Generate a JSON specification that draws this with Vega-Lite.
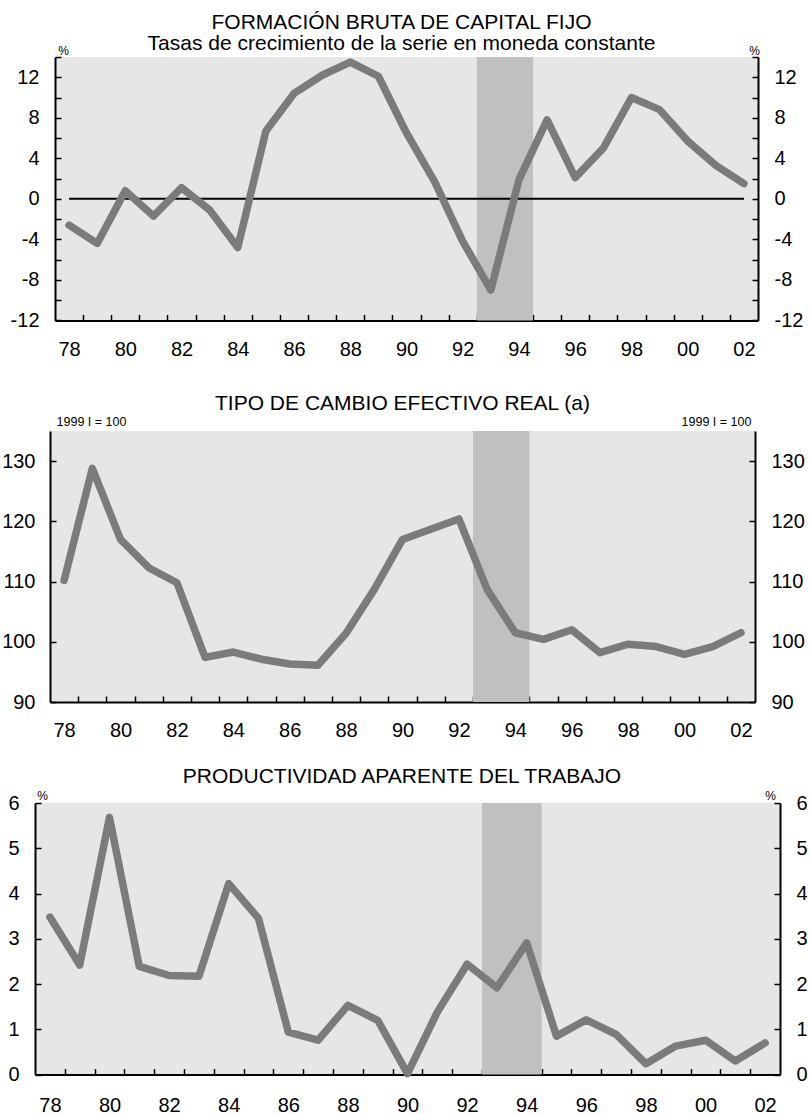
{
  "$schema": "https://vega.github.io/schema/vega-lite/v6.json",
  "padding": {"top": 12, "left": 0, "right": 0, "bottom": 0},
  "background": "white",
  "spacing": 0,
  "config": {
    "font": "Liberation Sans",
    "view": {"stroke": null},
    "axis": {"domainColor": "black", "domainWidth": 2, "tickColor": "black", "tickWidth": 1.5, "tickSize": -6, "labelFont": "Liberation Sans", "labelFontSize": 20, "labelColor": "black", "grid": false, "titleFont": "Liberation Sans", "titleFontWeight": "normal", "titleColor": "black", "labelOverlap": false, "labelBound": false, "labelFlush": false},
    "title": {"font": "Liberation Sans", "fontSize": 21, "fontWeight": "normal", "color": "black", "anchor": "middle", "frame": "group", "lineHeight": 21}
  },
  "datasets": {
    "fbcf": [
      {"year": 1978, "v": -2.6}, {"year": 1979, "v": -4.4}, {"year": 1980, "v": 0.8}, {"year": 1981, "v": -1.7}, {"year": 1982, "v": 1.1},
      {"year": 1983, "v": -1.1}, {"year": 1984, "v": -4.8}, {"year": 1985, "v": 6.7}, {"year": 1986, "v": 10.4}, {"year": 1987, "v": 12.2},
      {"year": 1988, "v": 13.5}, {"year": 1989, "v": 12.1}, {"year": 1990, "v": 6.5}, {"year": 1991, "v": 1.7}, {"year": 1992, "v": -4.2},
      {"year": 1993, "v": -9.0}, {"year": 1994, "v": 1.9}, {"year": 1995, "v": 7.8}, {"year": 1996, "v": 2.1}, {"year": 1997, "v": 5.0},
      {"year": 1998, "v": 10.0}, {"year": 1999, "v": 8.8}, {"year": 2000, "v": 5.7}, {"year": 2001, "v": 3.3}, {"year": 2002, "v": 1.5}
    ],
    "tcer": [
      {"year": 1978, "v": 110.2}, {"year": 1979, "v": 128.8}, {"year": 1980, "v": 117.0}, {"year": 1981, "v": 112.3}, {"year": 1982, "v": 109.8},
      {"year": 1983, "v": 97.4}, {"year": 1984, "v": 98.3}, {"year": 1985, "v": 97.1}, {"year": 1986, "v": 96.3}, {"year": 1987, "v": 96.1},
      {"year": 1988, "v": 101.4}, {"year": 1989, "v": 108.7}, {"year": 1990, "v": 117.0}, {"year": 1991, "v": 118.7}, {"year": 1992, "v": 120.4},
      {"year": 1993, "v": 108.7}, {"year": 1994, "v": 101.5}, {"year": 1995, "v": 100.4}, {"year": 1996, "v": 102.0}, {"year": 1997, "v": 98.2},
      {"year": 1998, "v": 99.6}, {"year": 1999, "v": 99.2}, {"year": 2000, "v": 97.9}, {"year": 2001, "v": 99.2}, {"year": 2002, "v": 101.5}
    ],
    "prod": [
      {"year": 1978, "v": 3.48}, {"year": 1979, "v": 2.42}, {"year": 1980, "v": 5.68}, {"year": 1981, "v": 2.39}, {"year": 1982, "v": 2.19},
      {"year": 1983, "v": 2.17}, {"year": 1984, "v": 4.22}, {"year": 1985, "v": 3.45}, {"year": 1986, "v": 0.94}, {"year": 1987, "v": 0.76},
      {"year": 1988, "v": 1.53}, {"year": 1989, "v": 1.2}, {"year": 1990, "v": 0.02}, {"year": 1991, "v": 1.38}, {"year": 1992, "v": 2.44},
      {"year": 1993, "v": 1.92}, {"year": 1994, "v": 2.91}, {"year": 1995, "v": 0.85}, {"year": 1996, "v": 1.21}, {"year": 1997, "v": 0.89},
      {"year": 1998, "v": 0.24}, {"year": 1999, "v": 0.63}, {"year": 2000, "v": 0.76}, {"year": 2001, "v": 0.3}, {"year": 2002, "v": 0.7}
    ]
  },
  "vconcat": [
    {
      "spacing": 0,
      "hconcat": [
        {"width": 10, "height": 336, "data": {"values": [{}]}, "mark": {"type": "point", "opacity": 0, "size": 0}, "encoding": {}},
        {
          "width": 703, "height": 263.4,
          "view": {"fill": "#e6e6e6", "stroke": null},
          "title": {"text": ["FORMACIÓN BRUTA DE CAPITAL FIJO", "Tasas de crecimiento de la serie en moneda constante"], "offset": -10, "dx": -5},
          "encoding": {
            "x": {"field": "year", "type": "quantitative", "scale": {"domain": [1977.5, 2002.5], "nice": false, "zero": false},
              "axis": {"title": null, "values": [1978, 1978.5, 1979.5, 1980, 1980.5, 1981.5, 1982, 1982.5, 1983.5, 1984, 1984.5, 1985.5, 1986, 1986.5, 1987.5, 1988, 1988.5, 1989.5, 1990, 1990.5, 1991.5, 1992, 1992.5, 1993.5, 1994, 1994.5, 1995.5, 1996, 1996.5, 1997.5, 1998, 1998.5, 1999.5, 2000, 2000.5, 2001.5, 2002],
                "labelExpr": "datum.value % 2 === 0 ? substring(toString(datum.value), 2, 4) : ''",
                "tickOpacity": {"condition": {"test": "datum.value % 1 === 0", "value": 0}, "value": 1},
                "labelBaseline": "middle", "labelPadding": 35.5}}
          },
          "layer": [
            {"data": {"values": [{"year": 1992.5, "year2": 1994.5}]}, "mark": {"type": "rect", "color": "#c0c0c0"}, "encoding": {"x2": {"field": "year2"}}},
            {"data": {"values": [{"year": 1978, "year2": 2002, "z": 0}]}, "mark": {"type": "rule", "color": "black", "strokeWidth": 2},
              "encoding": {"x2": {"field": "year2"}, "y": {"field": "z", "type": "quantitative", "scale": {"domain": [-12, 14], "nice": false, "zero": false}, "axis": null}}},
            {"data": {"name": "fbcf"}, "mark": {"type": "line", "color": "#7b7b7b", "strokeWidth": 7.5, "strokeJoin": "round", "strokeCap": "round"},
              "encoding": {"y": {"field": "v", "type": "quantitative", "scale": {"domain": [-12, 14], "nice": false, "zero": false},
                "axis": {"orient": "left", "values": [-12, -10, -8, -6, -4, -2, 0, 2, 4, 6, 8, 10, 12, 14], "labelExpr": "datum.value % 4 === 0 ? toString(datum.value) : ''", "labelPadding": 22,
                  "title": "%", "titleAngle": 0, "titleX": 8, "titleY": -7, "titleAlign": "center", "titleBaseline": "middle", "titleFontSize": 12}}}},
            {"data": {"name": "fbcf"}, "mark": {"type": "point", "opacity": 0},
              "encoding": {"y": {"field": "v", "type": "quantitative", "scale": {"domain": [-12, 14], "nice": false, "zero": false},
                "axis": {"orient": "right", "values": [-12, -10, -8, -6, -4, -2, 0, 2, 4, 6, 8, 10, 12, 14], "labelExpr": "datum.value % 4 === 0 ? toString(datum.value) : ''", "labelPadding": 22,
                  "title": "%", "titleAngle": 0, "titleX": -4, "titleY": -7, "titleAlign": "center", "titleBaseline": "middle", "titleFontSize": 12}}}}
          ],
          "resolve": {"scale": {"y": "independent"}}
        }
      ]
    },
    {
      "spacing": 0,
      "hconcat": [
        {"width": 1, "height": 335, "data": {"values": [{}]}, "mark": {"type": "point", "opacity": 0, "size": 0}, "encoding": {}},
        {
          "width": 705, "height": 271,
          "view": {"fill": "#e6e6e6", "stroke": null},
          "title": {"text": "TIPO DE CAMBIO EFECTIVO REAL (a)", "offset": 1},
          "encoding": {
            "x": {"field": "year", "type": "quantitative", "scale": {"domain": [1977.5, 2002.5], "nice": false, "zero": false},
              "axis": {"title": null, "values": [1978, 1978.5, 1979.5, 1980, 1980.5, 1981.5, 1982, 1982.5, 1983.5, 1984, 1984.5, 1985.5, 1986, 1986.5, 1987.5, 1988, 1988.5, 1989.5, 1990, 1990.5, 1991.5, 1992, 1992.5, 1993.5, 1994, 1994.5, 1995.5, 1996, 1996.5, 1997.5, 1998, 1998.5, 1999.5, 2000, 2000.5, 2001.5, 2002],
                "labelExpr": "datum.value % 2 === 0 ? substring(toString(datum.value), 2, 4) : ''",
                "tickOpacity": {"condition": {"test": "datum.value % 1 === 0", "value": 0}, "value": 1},
                "labelBaseline": "middle", "labelPadding": 34.5}}
          },
          "layer": [
            {"data": {"values": [{"year": 1992.5, "year2": 1994.5}]}, "mark": {"type": "rect", "color": "#c0c0c0"}, "encoding": {"x2": {"field": "year2"}}},
            {"data": {"name": "tcer"}, "mark": {"type": "line", "color": "#7b7b7b", "strokeWidth": 7.5, "strokeJoin": "round", "strokeCap": "round"},
              "encoding": {"y": {"field": "v", "type": "quantitative", "scale": {"domain": [90, 135], "nice": false, "zero": false},
                "axis": {"orient": "left", "values": [90, 100, 110, 120, 130], "labelExpr": "toString(datum.value)", "labelPadding": 21,
                  "title": "1999 I = 100", "titleAngle": 0, "titleX": 41, "titleY": -10, "titleAlign": "center", "titleBaseline": "middle", "titleFontSize": 12.5}}}},
            {"data": {"name": "tcer"}, "mark": {"type": "point", "opacity": 0},
              "encoding": {"y": {"field": "v", "type": "quantitative", "scale": {"domain": [90, 135], "nice": false, "zero": false},
                "axis": {"orient": "right", "values": [90, 100, 110, 120, 130], "labelExpr": "toString(datum.value)", "labelPadding": 22,
                  "title": "1999 I = 100", "titleAngle": 0, "titleX": -39, "titleY": -10, "titleAlign": "center", "titleBaseline": "middle", "titleFontSize": 12.5}}}}
          ],
          "resolve": {"scale": {"y": "independent"}}
        }
      ]
    },
    {
      "spacing": 0,
      "hconcat": [
        {"width": 7, "height": 10, "data": {"values": [{}]}, "mark": {"type": "point", "opacity": 0, "size": 0}, "encoding": {}},
        {
          "width": 745, "height": 271.6,
          "view": {"fill": "#e6e6e6", "stroke": null},
          "title": {"text": "PRODUCTIVIDAD APARENTE DEL TRABAJO", "offset": 1.6, "dx": -5.5},
          "encoding": {
            "x": {"field": "year", "type": "quantitative", "scale": {"domain": [1977.5, 2002.5], "nice": false, "zero": false},
              "axis": {"title": null, "values": [1978, 1978.5, 1979.5, 1980, 1980.5, 1981.5, 1982, 1982.5, 1983.5, 1984, 1984.5, 1985.5, 1986, 1986.5, 1987.5, 1988, 1988.5, 1989.5, 1990, 1990.5, 1991.5, 1992, 1992.5, 1993.5, 1994, 1994.5, 1995.5, 1996, 1996.5, 1997.5, 1998, 1998.5, 1999.5, 2000, 2000.5, 2001.5, 2002],
                "labelExpr": "datum.value % 2 === 0 ? substring(toString(datum.value), 2, 4) : ''",
                "tickOpacity": {"condition": {"test": "datum.value % 1 === 0", "value": 0}, "value": 1},
                "labelBaseline": "middle", "labelPadding": 36.5}}
          },
          "layer": [
            {"data": {"values": [{"year": 1992.5, "year2": 1994.5}]}, "mark": {"type": "rect", "color": "#c0c0c0"}, "encoding": {"x2": {"field": "year2"}}},
            {"data": {"name": "prod"}, "mark": {"type": "line", "color": "#7b7b7b", "strokeWidth": 7.5, "strokeJoin": "round", "strokeCap": "round"},
              "encoding": {"y": {"field": "v", "type": "quantitative", "scale": {"domain": [0, 6], "nice": false, "zero": false},
                "axis": {"orient": "left", "values": [0, 1, 2, 3, 4, 5, 6], "labelExpr": "toString(datum.value)", "labelPadding": 22,
                  "title": "%", "titleAngle": 0, "titleX": 7, "titleY": -8, "titleAlign": "center", "titleBaseline": "middle", "titleFontSize": 12}}}},
            {"data": {"name": "prod"}, "mark": {"type": "point", "opacity": 0},
              "encoding": {"y": {"field": "v", "type": "quantitative", "scale": {"domain": [0, 6], "nice": false, "zero": false},
                "axis": {"orient": "right", "values": [0, 1, 2, 3, 4, 5, 6], "labelExpr": "toString(datum.value)", "labelPadding": 22,
                  "title": "%", "titleAngle": 0, "titleX": -10, "titleY": -8, "titleAlign": "center", "titleBaseline": "middle", "titleFontSize": 12}}}}
          ],
          "resolve": {"scale": {"y": "independent"}}
        }
      ]
    }
  ]
}
